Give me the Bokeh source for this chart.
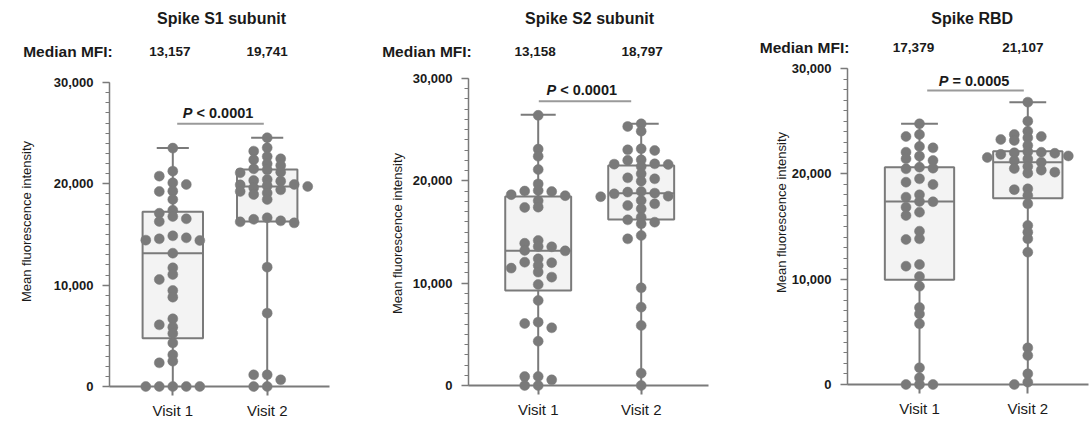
import numpy as np
from bokeh.plotting import figure
from bokeh.layouts import row
from bokeh.models import Range1d, FixedTicker, NumeralTickFormatter, Label
from bokeh.core.properties import value
from bokeh.embed import file_html
from bokeh.resources import INLINE

# ---------------- data ----------------
categories = ["Visit 1", "Visit 2"]
panel_titles = ["Spike S1 subunit", "Spike S2 subunit", "Spike RBD"]
p_value_texts = ["< 0.0001", "< 0.0001", "= 0.0005"]
y_ticks = [0, 10000, 20000, 30000]
y_minor_ticks = list(range(0, 30001, 1000))
y_label = "Mean fluorescence intensity"

s1_visit1 = [23524, 21253, 20760, 20102, 19937, 19280, 19250, 18457, 17400, 17100,
             16779, 16549, 16286, 14871, 14673, 14575, 14443, 14410, 13157, 11713,
             11054, 10561, 9475, 8817, 6679, 6087, 5856, 5230, 4300, 3125,
             2500, 2336, 0, 0, 0, 0, 0]
s1_visit2 = [24550, 23557, 23227, 22700, 22470, 22372, 21977, 21812, 21480, 21380,
             21154, 21088, 20430, 20332, 20266, 19937, 19900, 19800, 19741, 19609,
             19412, 19248, 19100, 18951, 18457, 16650, 16500, 16350, 16250, 16150,
             11778, 7238, 1152, 1152, 658, 0, 0]
s2_visit1 = [26400, 23100, 22400, 21100, 19700, 19050, 19000, 18950, 18650, 18550,
             18050, 17430, 17400, 14170, 13900, 13580, 13550, 13200, 13158, 12380,
             12050, 12000, 11730, 11470, 11080, 10590, 9870, 8310, 6190, 6060,
             5640, 4330, 880, 870, 550, 0, 0]
s2_visit2 = [25571, 25310, 24854, 23128, 23029, 22965, 22052, 22000, 21662, 21630,
             21600, 21401, 20684, 20293, 20196, 19967, 18950, 18900, 18797, 18730,
             18500, 18450, 18078, 17752, 17590, 17264, 16450, 16189, 15961, 15798,
             14658, 14332, 9544, 7655, 5863, 1205, 0]
rbd_visit1 = [24748, 23735, 23545, 22595, 22469, 22057, 21678, 21425, 21266, 20633,
              20538, 20475, 19526, 19209, 18988, 18007, 17785, 17379, 17350, 16836,
              16361, 16045, 14557, 13830, 13766, 11393, 11234, 10254, 9335, 7300,
              6700, 5760, 1582, 633, 0, 0, 0]
rbd_visit2 = [26805, 25001, 24051, 23735, 23545, 23418, 23260, 23165, 22690, 22100,
              22050, 22000, 21950, 21850, 21700, 21550, 21400, 21250, 21107, 20700,
              20500, 20350, 20159, 20064, 18577, 18500, 17943, 17153, 15095, 14462,
              13830, 12563, 3481, 2753, 1013, 222, 0]

# box statistics: [min, q1, median, q3, max]
s1_box = [[0, 4768, 13157, 17246, 23524], [0, 16288, 19741, 21421, 24551]]
s2_box = [[0, 9283, 13158, 18469, 26450], [0, 16221, 18797, 21498, 25572]]
rbd_box = [[0, 9937, 17379, 20633, 24748], [0, 17690, 21107, 22152, 26805]]

# ---------------- layout / style (pixel geometry of the page) ----------------
GRAY = "#7a7a7a"
TEXT = "#1a1a1a"
FONT = "Liberation Sans"
H = 420

panels = [
    dict(values=[s1_visit1, s1_visit2], box=s1_box, page_left=0, width=350,
         L=109, c1=172.3, c2=266.7, R=329, y0=386, y30=82,
         title_xy=(221, 18), med_y=51, med_label_x=22.7, med_dx=(-3, 0),
         p_xy=(219, 112.7), bar=(176.7, 263.3, 123.3), ylab_xy=(26, 221)),
    dict(values=[s2_visit1, s2_visit2], box=s2_box, page_left=350, width=378,
         L=468, c1=537.7, c2=640.7, R=708, y0=385, y30=78,
         title_xy=(589, 18), med_y=51, med_label_x=381.7, med_dx=(-3, 1),
         p_xy=(582.7, 89.3), bar=(538.3, 630.7, 100.7), ylab_xy=(397, 233)),
    dict(values=[rbd_visit1, rbd_visit2], box=rbd_box, page_left=728, width=362,
         L=847, c1=919, c2=1027.3, R=1088, y0=384, y30=68,
         title_xy=(971.7, 18), med_y=46.7, med_label_x=759.3, med_dx=(-6, -5),
         p_xy=(975, 80), bar=(926.7, 1023.3, 90), ylab_xy=(781, 212)),
]


def swarm(vals, center, ppu_y, ppu_x, min_gap=6.0, step_px=13.5):
    vals = np.asarray(vals, dtype=float)
    order = np.argsort(-vals, kind="stable")
    placed = []
    xs = np.zeros(len(vals))
    for i in order:
        ypx = vals[i] * ppu_y

        def free(k):
            return all(not (s == k and abs(y - ypx) < min_gap) for s, y in placed)

        chosen = None
        if free(0):
            chosen = 0
        else:
            for k in range(1, 12):
                fl, fr = free(-k), free(k)
                if fl and fr:
                    nl = sum(1 for s, y in placed if s < 0 and abs(y - ypx) < 3 * min_gap)
                    nr = sum(1 for s, y in placed if s > 0 and abs(y - ypx) < 3 * min_gap)
                    chosen = k if nr < nl else -k
                elif fl:
                    chosen = -k
                elif fr:
                    chosen = k
                if chosen is not None:
                    break
        placed.append((chosen, ypx))
        xs[i] = center + chosen * step_px / ppu_x
    return xs


figs = []
for idx, cfg in enumerate(panels):
    sp = cfg["c2"] - cfg["c1"]                 # px per x unit
    ppu = (cfg["y0"] - cfg["y30"]) / 30000.0   # px per y unit

    def dx(px, sp=sp, cfg=cfg):
        return 1 + (px - cfg["c1"]) / sp

    def dy(py, ppu=ppu, cfg=cfg):
        return (cfg["y0"] - py) / ppu

    p = figure(width=cfg["width"], height=H,
               x_range=Range1d(dx(cfg["page_left"]), dx(cfg["page_left"] + cfg["width"])),
               y_range=Range1d(dy(H), dy(0)),
               output_backend="svg", toolbar_location=None,
               min_border=0, min_border_left=0, min_border_right=0,
               min_border_top=0, min_border_bottom=0)
    p.outline_line_color = None
    p.grid.visible = False
    p.background_fill_color = "white"
    p.border_fill_color = "white"

    # y axis (drawn at the frame position of the reference axis)
    ya = p.yaxis[0]
    ya.fixed_location = dx(cfg["L"])
    ya.bounds = (0, 30000)
    ya.ticker = FixedTicker(ticks=y_ticks, minor_ticks=y_minor_ticks)
    ya.formatter = NumeralTickFormatter(format="0,0")
    ya.axis_line_color = GRAY
    ya.axis_line_width = 1.5
    ya.major_tick_line_color = GRAY
    ya.major_tick_line_width = 1.5
    ya.minor_tick_line_color = GRAY
    ya.minor_tick_line_width = 1.2
    ya.major_tick_in = 0
    ya.major_tick_out = 7
    ya.minor_tick_in = 0
    ya.minor_tick_out = 4
    ya.major_label_text_font = FONT
    ya.major_label_text_font_style = "bold"
    ya.major_label_text_font_size = "13px"
    ya.major_label_text_color = TEXT
    ya.major_label_standoff = 9

    # x axis at y = 0
    xa = p.xaxis[0]
    xa.fixed_location = 0
    xa.bounds = (dx(cfg["L"]), dx(cfg["R"]))
    xa.ticker = FixedTicker(ticks=[1, 2])
    xa.major_label_overrides = {1: categories[0], 2: categories[1]}
    xa.axis_line_color = GRAY
    xa.axis_line_width = 2
    xa.major_tick_line_color = GRAY
    xa.major_tick_line_width = 2
    xa.major_tick_in = 0
    xa.major_tick_out = 9
    xa.minor_tick_line_color = None
    xa.major_label_text_font = FONT
    xa.major_label_text_font_size = "15px"
    xa.major_label_text_color = TEXT
    xa.major_label_standoff = 6

    lx, ly = cfg["ylab_xy"]
    p.text(x=[dx(lx)], y=[dy(ly)], text=[y_label], angle=np.pi / 2,
           text_font=value(FONT), text_font_size="13px", text_color=TEXT,
           text_align="center", text_baseline="middle")

    for j, (vals, stats) in enumerate(zip(cfg["values"], cfg["box"])):
        c = j + 1
        mn, q1, med, q3, mx = stats
        p.segment(x0=[c, c], y0=[mn, q3], x1=[c, c], y1=[q1, mx], line_color=GRAY, line_width=2)
        p.segment(x0=[c - 0.17], y0=[mx], x1=[c + 0.17], y1=[mx], line_color=GRAY, line_width=2)
        p.quad(left=[c - 0.32], right=[c + 0.32], bottom=[q1], top=[q3],
               fill_color="#f3f3f3", line_color=GRAY, line_width=2)
        p.segment(x0=[c - 0.32], y0=[med], x1=[c + 0.32], y1=[med], line_color=GRAY, line_width=2)
        xs = swarm(vals, c, ppu, sp)
        p.scatter(x=xs, y=vals, size=10, fill_color=GRAY, line_color=GRAY, line_width=0.5)

    # significance bar and p value
    bx0, bx1, by = cfg["bar"]
    p.segment(x0=[dx(bx0)], y0=[dy(by)], x1=[dx(bx1)], y1=[dy(by)], line_color="#9a9a9a",
              line_width=2)
    px_, py_ = cfg["p_xy"]
    split = -37 + 10
    p.add_layout(Label(x=dx(px_), y=dy(py_), x_offset=split, text="P", text_font=FONT,
                       text_font_size="14.5px", text_font_style="bold italic", text_color=TEXT,
                       text_align="right", text_baseline="middle"))
    p.add_layout(Label(x=dx(px_), y=dy(py_), x_offset=split + 4, text=p_value_texts[idx],
                       text_font=FONT, text_font_size="14.5px", text_font_style="bold",
                       text_color=TEXT, text_align="left", text_baseline="middle"))

    # title and median row
    tx, ty = cfg["title_xy"]
    p.text(x=[dx(tx)], y=[dy(ty)], text=[panel_titles[idx]], text_font=value(FONT),
           text_font_size="16px", text_font_style="bold", text_color=TEXT,
           text_align="center", text_baseline="middle")
    p.text(x=[dx(cfg["med_label_x"])], y=[dy(cfg["med_y"])], text=["Median MFI:"],
           text_font=value(FONT), text_font_size="15.5px", text_font_style="bold",
           text_color=TEXT, text_align="left", text_baseline="middle")
    meds = [st[2] for st in cfg["box"]]
    p.text(x=[1 + cfg["med_dx"][0] / sp, 2 + cfg["med_dx"][1] / sp],
           y=[dy(cfg["med_y"])] * 2, text=[f"{m:,}" for m in meds],
           text_font=value(FONT), text_font_size="13.5px", text_font_style="bold",
           text_color=TEXT, text_align="center", text_baseline="middle")

    figs.append(p)

layout = row(*figs, spacing=0)
open("out.html", "w").write(file_html(layout, INLINE))
